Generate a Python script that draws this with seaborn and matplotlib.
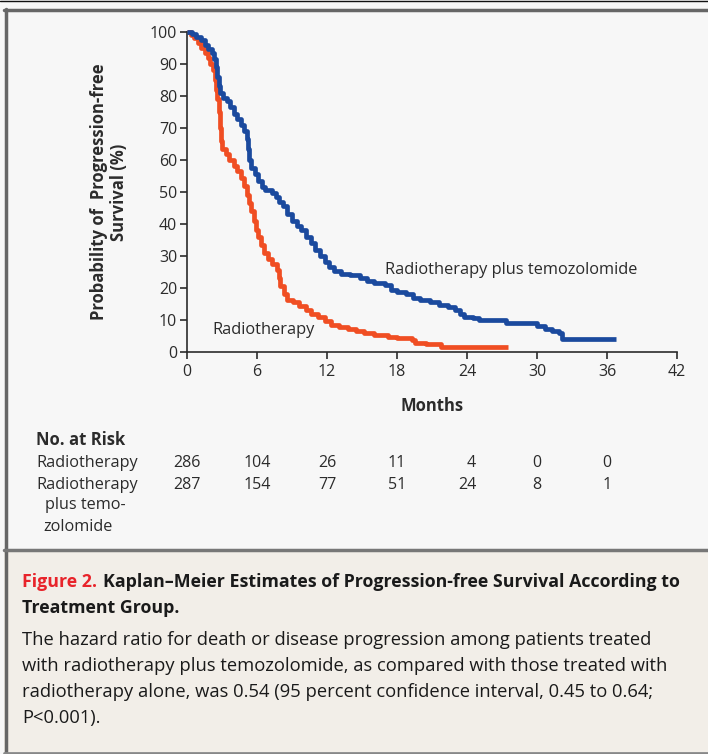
import numpy as np
import pandas as pd
import matplotlib.pyplot as plt
import seaborn as sns
from matplotlib.lines import Line2D
from matplotlib.patches import Rectangle
from matplotlib.transforms import blended_transform_factory

sns.set_theme(style="ticks")
plt.rcParams['font.family'] = ['Open Sans', 'DejaVu Sans']

# Kaplan-Meier step points (month, % progression-free)
rt_months = [0, 0.3, 0.6, 0.9, 1.2, 1.5, 1.8, 2.0, 2.2, 2.4, 2.5, 2.6, 2.7, 2.8, 2.9, 3.0,
             3.3, 3.6, 4.0, 4.3, 4.6, 4.9, 5.1, 5.3, 5.5, 5.7, 5.9, 6.1, 6.3, 6.6, 6.9, 7.3,
             7.7, 7.9, 8.0, 8.3, 8.6, 9.1, 9.6, 10.2, 10.6, 11.2, 11.8, 12.3, 13.0, 13.8,
             14.5, 15.2, 16.0, 17.2, 18.0, 19.3, 19.5, 20.5, 21.8, 27.5]
rt_surv = [100, 99, 98, 96.5, 95, 93.5, 92, 90, 88, 85, 82, 79, 75, 70, 66, 63.5,
           62, 60, 58, 56.5, 54.5, 52, 49, 46.5, 44, 41, 38, 36, 33.5, 31, 29, 27.5,
           25.5, 23, 20.5, 18, 16.3, 15.5, 14.5, 13, 11.8, 10.8, 9.7, 8.5, 7.9, 7.2,
           6.5, 5.9, 5.2, 4.8, 4.4, 3.8, 2.8, 2.5, 1.6, 1.6]

tmz_months = [0, 0.4, 0.8, 1.2, 1.5, 1.8, 2.1, 2.3, 2.45, 2.55, 2.7, 2.85, 3.1, 3.4, 3.7,
              4.0, 4.3, 4.6, 4.9, 5.1, 5.25, 5.35, 5.5, 5.8, 6.1, 6.4, 6.7, 7.3, 7.6, 7.9,
              8.2, 8.6, 9.0, 9.4, 9.8, 10.2, 10.6, 11.0, 11.4, 11.8, 12.2, 12.6, 13.2,
              14.0, 14.8, 15.4, 16.0, 17.0, 17.5, 18.0, 18.8, 19.4, 20.0, 20.8, 21.6,
              22.4, 23.0, 23.4, 23.7, 24.5, 25.0, 27.3, 30.0, 30.7, 31.3, 31.9, 32.1, 36.8]
tmz_surv = [100, 99.3, 98.5, 97.5, 96, 94.8, 93.5, 91.5, 89, 86, 83, 81, 79.5, 78.5, 76.5,
            74.5, 72.8, 71, 69, 66.5, 63.5, 60, 57.5, 55.5, 53.5, 51.5, 50.5, 49.8, 48.5, 47,
            45.5, 43, 41, 39.5, 38, 36, 34, 32, 30, 28.2, 26.5, 25.3, 24.5,
            24, 23.2, 22.2, 21.6, 20.8, 19.5, 18.7, 18.0, 17.0, 16.2, 15.5, 14.8,
            14.0, 13.2, 11.8, 11.0, 10.5, 10.0, 9.1, 8.0, 7.3, 6.6, 5.9, 4.0, 4.0]

risk_months = [0, 6, 12, 18, 24, 30, 36]
risk_rt = ['286', '104', '26', '11', '4', '0', '0']
risk_tmz = ['287', '154', '77', '51', '24', '8', '1']

caption_lines = [
    "The hazard ratio for death or disease progression among patients treated",
    "with radiotherapy plus temozolomide, as compared with those treated with",
    "radiotherapy alone, was 0.54 (95 percent confidence interval, 0.45 to 0.64;",
    "P<0.001).",
]

COLOR_RT = '#f04e23'
COLOR_TMZ = '#1b4a9e'
TEXT = '#2b2b2b'
W, H = 708, 754


def fx(x):
    return x / W


def fy(y):
    return 1 - y / H


fig = plt.figure(figsize=(7.08, 7.54), dpi=100, facecolor='#f7f7f7')

# frame and caption box
fig.add_artist(Rectangle((fx(4), fy(752)), 1, fy(550) - fy(752), transform=fig.transFigure,
                         facecolor='#f2eee8', edgecolor='none', zorder=0))
fig.add_artist(Line2D([0, 1], [fy(0.5), fy(0.5)], color='#111111', lw=1))
fig.add_artist(Line2D([fx(4), 1], [fy(9.5), fy(9.5)], color='#666666', lw=2.5))
fig.add_artist(Line2D([fx(5.5), fx(5.5)], [fy(9), fy(754)], color='#666666', lw=2.5))
fig.add_artist(Line2D([fx(4), 1], [fy(549.5), fy(549.5)], color='#777777', lw=2.5))
fig.add_artist(Line2D([fx(4), 1], [fy(753), fy(753)], color='#888888', lw=2))

ax = fig.add_axes([fx(187), fy(352), fx(677) - fx(187), fy(32) - fy(352)])
ax.set_facecolor('none')

df = pd.concat([
    pd.DataFrame({'Months': rt_months, 'Survival': rt_surv, 'Group': 'Radiotherapy'}),
    pd.DataFrame({'Months': tmz_months, 'Survival': tmz_surv, 'Group': 'Radiotherapy plus temozolomide'}),
])
sns.lineplot(data=df, x='Months', y='Survival', hue='Group', estimator=None, sort=False,
             palette={'Radiotherapy': COLOR_RT, 'Radiotherapy plus temozolomide': COLOR_TMZ},
             drawstyle='steps-post', linewidth=3.4, legend=False, ax=ax, clip_on=False)
for ln in ax.get_lines():
    ln.set_solid_joinstyle('round')
    ln.set_solid_capstyle('butt')
ax.get_lines()[1].set_zorder(3)

ax.set_xlim(0, 42)
ax.set_ylim(0, 100)
ax.set_xticks(range(0, 43, 6))
ax.set_yticks(range(0, 101, 10))
for s in ['top', 'right']:
    ax.spines[s].set_visible(False)
for s in ['left', 'bottom']:
    ax.spines[s].set_color(TEXT)
    ax.spines[s].set_linewidth(1.2)
ax.tick_params(axis='both', direction='out', length=5, width=1.2, color=TEXT,
               labelsize=11.5, labelcolor=TEXT, pad=2, bottom=True, left=True)
ax.tick_params(axis='x', pad=4)
ax.set_xlabel('Months', fontsize=12, fontweight='bold', color=TEXT, labelpad=12)
ax.set_ylabel('Probability of  Progression-free\nSurvival (%)', fontsize=12,
              fontweight='bold', color=TEXT, labelpad=16, linespacing=1.15)

ax.text(16.97, 25.6, 'Radiotherapy plus temozolomide', fontsize=11.8, color=TEXT, va='center')
ax.text(2.14, 6.9, 'Radiotherapy', fontsize=11.8, color=TEXT, va='center')

# number at risk table
fig.text(fx(36), fy(440), 'No. at Risk', fontsize=12, fontweight='bold', color=TEXT, va='center')
fig.text(fx(36), fy(463), 'Radiotherapy', fontsize=11.7, color=TEXT, va='center')
fig.text(fx(36), fy(485), 'Radiotherapy', fontsize=11.7, color=TEXT, va='center')
fig.text(fx(45), fy(505), 'plus temo-', fontsize=11.7, color=TEXT, va='center')
fig.text(fx(43), fy(527), 'zolomide', fontsize=11.7, color=TEXT, va='center')
trans = blended_transform_factory(ax.transData, fig.transFigure)
for m, a, b in zip(risk_months, risk_rt, risk_tmz):
    shift = 0.39 * max(len(a), len(b))
    ax.text(m + shift, fy(463), a, transform=trans, fontsize=11.5, color=TEXT, ha='right', va='center')
    ax.text(m + shift, fy(485), b, transform=trans, fontsize=11.5, color=TEXT, ha='right', va='center')

# caption
t1 = fig.text(fx(22), fy(582), 'Figure 2.', fontsize=12.8, fontweight='bold', color='#e8232a', va='center')
fig.canvas.draw()
bb = t1.get_window_extent()
fig.text(bb.x1 / W + fx(6), fy(582), 'Kaplan\u2013Meier Estimates of Progression-free Survival According to',
         fontsize=12.8, fontweight='bold', color='#1a1a1a', va='center')
fig.text(fx(22), fy(608), 'Treatment Group.', fontsize=12.8, fontweight='bold', color='#1a1a1a', va='center')
for i, line in enumerate(caption_lines):
    fig.text(fx(22), fy(640 + 26 * i), line, fontsize=13.2, color='#1a1a1a', va='center')

fig.savefig('out.png', dpi=100, facecolor=fig.get_facecolor())
